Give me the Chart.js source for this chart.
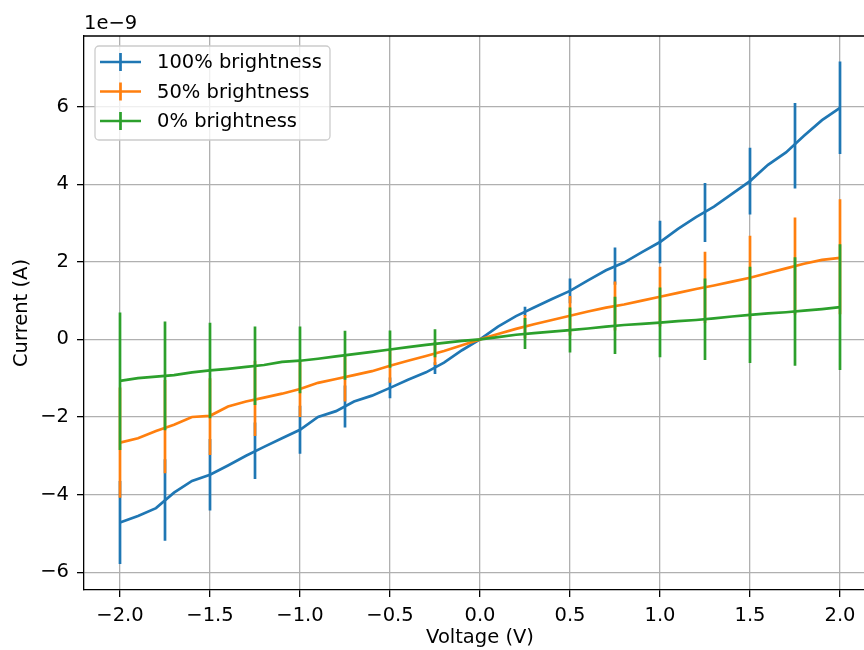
<!DOCTYPE html>
<html>
<head>
<meta charset="utf-8">
<script src="https://cdn.jsdelivr.net/npm/chart.js@4.4.0/dist/chart.umd.min.js"></script>
<style>
html, body { margin: 0; padding: 0; overflow: hidden; background: #fff; }
canvas { display: block; }
</style>
</head>
<body>
<canvas id="chart" width="880" height="650"></canvas>
<script>
// voltage sweep (V); currents are in units of 1e-9 A
const voltage = [-2.0, -1.9, -1.8, -1.7, -1.6, -1.5, -1.4, -1.3, -1.2, -1.1, -1.0,
    -0.9, -0.8, -0.7, -0.6, -0.5, -0.4, -0.3, -0.2, -0.1, 0.0,
    0.1, 0.2, 0.3, 0.4, 0.5, 0.6, 0.7, 0.8, 0.9, 1.0,
    1.1, 1.2, 1.3, 1.4, 1.5, 1.6, 1.7, 1.8, 1.9, 2.0];
const current100 = [-4.72, -4.55, -4.35, -3.95, -3.65, -3.49, -3.25, -3.0, -2.77, -2.55, -2.33,
    -2.0, -1.85, -1.6, -1.45, -1.25, -1.04, -0.85, -0.6, -0.28, 0,
    0.33, 0.6, 0.82, 1.04, 1.25, 1.52, 1.78, 1.98, 2.25, 2.51,
    2.85, 3.15, 3.42, 3.75, 4.08, 4.5, 4.82, 5.25, 5.65, 5.97];
const current50 = [-2.66, -2.55, -2.36, -2.2, -2.0, -1.97, -1.73, -1.6, -1.5, -1.4, -1.28,
    -1.12, -1.02, -0.92, -0.82, -0.68, -0.55, -0.43, -0.3, -0.15, 0,
    0.14, 0.27, 0.39, 0.5, 0.61, 0.72, 0.82, 0.9, 1.0, 1.1,
    1.2, 1.3, 1.39, 1.49, 1.59, 1.71, 1.83, 1.95, 2.05, 2.1];
const current0 = [-1.07, -1.0, -0.96, -0.92, -0.85, -0.8, -0.76, -0.71, -0.66, -0.58, -0.55,
    -0.5, -0.44, -0.38, -0.32, -0.26, -0.2, -0.14, -0.09, -0.04, 0,
    0.06, 0.12, 0.16, 0.2, 0.24, 0.28, 0.33, 0.37, 0.4, 0.43,
    0.47, 0.5, 0.54, 0.59, 0.63, 0.67, 0.7, 0.74, 0.78, 0.83];

// error bars every 0.25 V: centre and half-height
const barVoltage = [-2.0, -1.75, -1.5, -1.25, -1.0, -0.75, -0.5, -0.25, 0, 0.25, 0.5, 0.75, 1.0, 1.25, 1.5, 1.75, 2.0];
const bar100 = [-4.72, -4.14, -3.49, -2.87, -2.33, -1.73, -1.25, -0.74, 0, 0.72, 1.25, 1.89, 2.51, 3.27, 4.08, 4.99, 5.97];
const err100 = [1.07, 1.05, 0.92, 0.73, 0.62, 0.54, 0.27, 0.15, 0, 0.12, 0.32, 0.48, 0.55, 0.76, 0.86, 1.1, 1.19];
const bar50 = [-2.66, -2.25, -1.99, -1.52, -1.28, -0.99, -0.68, -0.36, 0, 0.33, 0.61, 0.86, 1.1, 1.34, 1.59, 1.89, 2.13];
const err50 = [1.42, 1.2, 0.99, 0.97, 0.72, 0.61, 0.44, 0.3, 0, 0.3, 0.51, 0.63, 0.77, 0.92, 1.08, 1.25, 1.48];
const bar0 = [-1.08, -0.94, -0.8, -0.68, -0.53, -0.41, -0.25, -0.1, 0, 0.15, 0.24, 0.36, 0.44, 0.52, 0.63, 0.72, 0.83];
const err0 = [1.77, 1.4, 1.23, 1.01, 0.86, 0.63, 0.48, 0.36, 0, 0.4, 0.58, 0.74, 0.9, 1.05, 1.24, 1.4, 1.62];

const seriesLabels = ['100% brightness', '50% brightness', '0% brightness'];
const xTicks = [-2.0, -1.5, -1.0, -0.5, 0.0, 0.5, 1.0, 1.5, 2.0];
const yTicks = [-6, -4, -2, 0, 2, 4, 6];

const BLUE = '#1f77b4', ORANGE = '#ff7f0e', GREEN = '#2ca02c';
const FONT = 'DejaVu Sans';
const FONT_SIZE = 19.5;
const LW = 2.7;

function linePoints(ys) {
    return voltage.map((v, i) => ({ x: v, y: ys[i] }));
}

// each bar is two points followed by a gap
function errorPoints(centres, errs) {
    const pts = [];
    barVoltage.forEach((v, i) => {
        pts.push({ x: v, y: centres[i] - errs[i] });
        pts.push({ x: v, y: centres[i] + errs[i] });
        pts.push({ x: v, y: null });
    });
    return pts;
}

function lineSet(label, ys, color, order) {
    return { label: label, data: linePoints(ys), borderColor: color, borderWidth: LW,
        pointRadius: 0, fill: false, tension: 0, order: order };
}
function errSet(centres, errs, color, order) {
    return { label: '', data: errorPoints(centres, errs), borderColor: color, borderWidth: LW,
        pointRadius: 0, fill: false, spanGaps: false, order: order, borderCapStyle: 'butt' };
}

const minus = s => s.replace('-', '\u2212');

// top spine, "1e-9" offset text and the boxed legend inside the axes
const axesExtras = {
    id: 'axesExtras',
    afterDraw(chart) {
        const ctx = chart.ctx;
        const a = chart.chartArea;
        ctx.save();
        ctx.strokeStyle = '#000';
        ctx.lineWidth = 1.3;
        ctx.beginPath();
        ctx.moveTo(a.left, a.top);
        ctx.lineTo(a.right, a.top);
        ctx.lineTo(a.right, a.bottom);
        ctx.stroke();

        ctx.fillStyle = '#000';
        ctx.font = FONT_SIZE + 'px "' + FONT + '"';
        ctx.textAlign = 'left';
        ctx.textBaseline = 'alphabetic';
        ctx.fillText('1e\u22129', a.left, a.top - 7);

        const x0 = a.left + 11, y0 = a.top + 10, w = 235, h = 94;
        ctx.beginPath();
        ctx.roundRect(x0, y0, w, h, 4);
        ctx.fillStyle = 'rgba(255,255,255,0.8)';
        ctx.fill();
        ctx.strokeStyle = '#cccccc';
        ctx.lineWidth = 1.3;
        ctx.stroke();

        const entries = chart.data.datasets.filter(ds => ds.label);
        entries.forEach((ds, i) => {
            const cy = y0 + 16 + i * 29.5;
            ctx.strokeStyle = ds.borderColor;
            ctx.lineWidth = LW;
            ctx.beginPath();
            ctx.moveTo(x0 + 5, cy);
            ctx.lineTo(x0 + 46, cy);
            ctx.moveTo(x0 + 25.5, cy - 9);
            ctx.lineTo(x0 + 25.5, cy + 9);
            ctx.stroke();
            ctx.fillStyle = '#000';
            ctx.textBaseline = 'middle';
            ctx.fillText(ds.label, x0 + 62, cy + 1);
        });
        ctx.restore();
    }
};

Chart.defaults.font.family = FONT;
Chart.defaults.font.size = FONT_SIZE;
Chart.defaults.color = '#000';

const ctx = document.getElementById('chart').getContext('2d');
new Chart(ctx, {
    type: 'line',
    data: {
        datasets: [
            lineSet(seriesLabels[0], current100, BLUE, 6),
            errSet(bar100, err100, BLUE, 5),
            lineSet(seriesLabels[1], current50, ORANGE, 4),
            errSet(bar50, err50, ORANGE, 3),
            lineSet(seriesLabels[2], current0, GREEN, 2),
            errSet(bar0, err0, GREEN, 1)
        ]
    },
    options: {
        responsive: false,
        animation: false,
        layout: { padding: { top: 36, right: 4, left: 0, bottom: 0 } },
        plugins: {
            legend: { display: false },
            tooltip: { enabled: false }
        },
        scales: {
            x: {
                type: 'linear',
                min: -2.2,
                max: 2.2,
                afterFit: scale => { scale.height = 60; },
                afterBuildTicks: scale => { scale.ticks = xTicks.map(v => ({ value: v })); },
                ticks: {
                    padding: 7,
                    maxRotation: 0,
                    callback: v => minus(v.toFixed(1))
                },
                grid: { color: '#b0b0b0', lineWidth: 1.3, tickColor: '#000', tickLength: 7, tickWidth: 1.3 },
                border: { color: '#000', width: 1.3 },
                title: { display: true, text: 'Voltage (V)', padding: { top: 0, bottom: 0 } }
            },
            y: {
                type: 'linear',
                min: -6.46,
                max: 7.82,
                afterFit: scale => { scale.width = 84; },
                afterBuildTicks: scale => { scale.ticks = yTicks.map(v => ({ value: v })); },
                ticks: {
                    padding: 8,
                    callback: v => minus(String(v))
                },
                grid: { color: '#b0b0b0', lineWidth: 1.3, tickColor: '#000', tickLength: 7, tickWidth: 1.3 },
                border: { color: '#000', width: 1.3 },
                title: { display: true, text: 'Current (A)', padding: { top: 10, bottom: 0 } }
            }
        }
    },
    plugins: [axesExtras]
});
</script>
</body>
</html>
